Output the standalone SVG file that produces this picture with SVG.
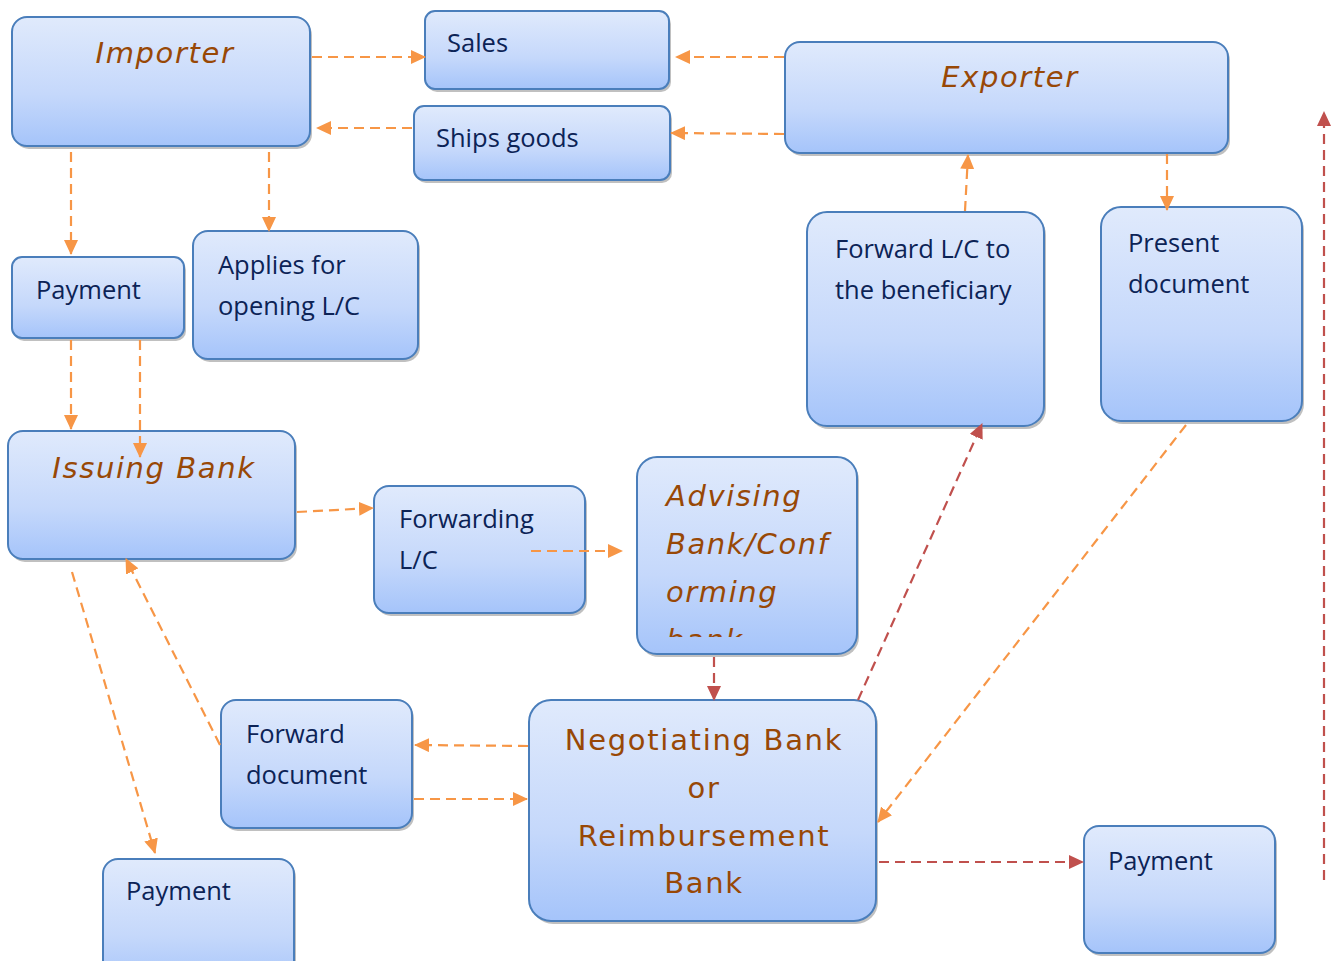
<svg xmlns="http://www.w3.org/2000/svg" width="1334" height="961" viewBox="0 0 1334 961">
<defs>
<linearGradient id="g" x1="0" y1="0" x2="0" y2="1">
<stop offset="0" stop-color="#e0eafc"/>
<stop offset="0.6" stop-color="#c5d8fb"/>
<stop offset="1" stop-color="#a5c4fa"/>
</linearGradient>
<marker id="ao" viewBox="0 0 15 14" refX="14" refY="7" markerWidth="15" markerHeight="14" markerUnits="userSpaceOnUse" orient="auto">
<path d="M0,0 L15,7 L0,14 z" fill="#f79646"/>
</marker>
<marker id="ar" viewBox="0 0 15 14" refX="14" refY="7" markerWidth="15" markerHeight="14" markerUnits="userSpaceOnUse" orient="auto">
<path d="M0,0 L15,7 L0,14 z" fill="#c0504d"/>
</marker>
<clipPath id="advclip"><rect x="637" y="457" width="221" height="180"/></clipPath>
</defs>
<style>
.sh{fill:#8c8c8c;opacity:0.55}
.bx{fill:url(#g);stroke:#4a7ebb;stroke-width:2}
.nv{font-family:"Open Sans","Liberation Sans",sans-serif;font-size:25.5px;fill:#0c2356}
.br{font-family:"DejaVu Sans",Verdana,sans-serif;font-style:italic;font-size:29px;letter-spacing:1.6px;fill:#984806}
.bn{font-family:"DejaVu Sans",Verdana,sans-serif;font-size:29px;letter-spacing:1.7px;fill:#984806}
.co{fill:none;stroke:#f79646;stroke-width:2.2;stroke-dasharray:10,6;marker-end:url(#ao)}
.cr{fill:none;stroke:#c0504d;stroke-width:2.2;stroke-dasharray:10,6;marker-end:url(#ar)}
</style>
<rect width="1334" height="961" fill="#ffffff"/>

<g id="importer">
<rect class="sh" x="14" y="20" width="298" height="129" rx="15"/>
<rect class="bx" x="12" y="17" width="298" height="129" rx="15"/>
<text class="br" x="165" y="63" text-anchor="middle">Importer</text>
</g>
<g id="sales">
<rect class="sh" x="427" y="14" width="244" height="78" rx="10"/>
<rect class="bx" x="425" y="11" width="244" height="78" rx="10"/>
<text class="nv" x="447" y="52">Sales</text>
</g>
<g id="ships-goods">
<rect class="sh" x="416" y="109" width="256" height="74" rx="10"/>
<rect class="bx" x="414" y="106" width="256" height="74" rx="10"/>
<text class="nv" x="436" y="147">Ships goods</text>
</g>
<g id="exporter">
<rect class="sh" x="787" y="45" width="443" height="111" rx="15"/>
<rect class="bx" x="785" y="42" width="443" height="111" rx="15"/>
<text class="br" x="1010" y="87" text-anchor="middle">Exporter</text>
</g>
<g id="payment-left">
<rect class="sh" x="14" y="260" width="172" height="81" rx="10"/>
<rect class="bx" x="12" y="257" width="172" height="81" rx="10"/>
<text class="nv" x="36" y="299">Payment</text>
</g>
<g id="applies">
<rect class="sh" x="195" y="234" width="225" height="128" rx="15"/>
<rect class="bx" x="193" y="231" width="225" height="128" rx="15"/>
<text class="nv" x="218" y="274">Applies for</text>
<text class="nv" x="218" y="315">opening L/C</text>
</g>
<g id="forward-lc">
<rect class="sh" x="809" y="215" width="237" height="214" rx="20"/>
<rect class="bx" x="807" y="212" width="237" height="214" rx="20"/>
<text class="nv" x="835" y="258">Forward L/C to</text>
<text class="nv" x="835" y="299">the beneficiary</text>
</g>
<g id="present-document">
<rect class="sh" x="1103" y="210" width="201" height="214" rx="20"/>
<rect class="bx" x="1101" y="207" width="201" height="214" rx="20"/>
<text class="nv" x="1128" y="252">Present</text>
<text class="nv" x="1128" y="293">document</text>
</g>
<g id="issuing-bank">
<rect class="sh" x="10" y="434" width="287" height="128" rx="15"/>
<rect class="bx" x="8" y="431" width="287" height="128" rx="15"/>
<text class="br" x="154" y="478" text-anchor="middle">Issuing Bank</text>
</g>
<g id="forwarding-lc">
<rect class="sh" x="376" y="489" width="211" height="127" rx="15"/>
<rect class="bx" x="374" y="486" width="211" height="127" rx="15"/>
<text class="nv" x="399" y="528">Forwarding</text>
<text class="nv" x="399" y="569">L/C</text>
</g>
<g id="advising-bank">
<rect class="sh" x="639" y="460" width="220" height="197" rx="20"/>
<rect class="bx" x="637" y="457" width="220" height="197" rx="20"/>
<g clip-path="url(#advclip)">
<text class="br" x="666" y="506">Advising</text>
<text class="br" x="666" y="554">Bank/Conf</text>
<text class="br" x="666" y="602">orming</text>
<text class="br" x="666" y="650">bank</text>
</g>
</g>
<g id="negotiating-bank">
<rect class="sh" x="531" y="703" width="347" height="221" rx="22"/>
<rect class="bx" x="529" y="700" width="347" height="221" rx="22"/>
<text class="bn" x="704" y="750" text-anchor="middle">Negotiating Bank</text>
<text class="bn" x="704" y="798" text-anchor="middle">or</text>
<text class="bn" x="704" y="846" text-anchor="middle">Reimbursement</text>
<text class="bn" x="704" y="893" text-anchor="middle">Bank</text>
</g>
<g id="forward-document">
<rect class="sh" x="223" y="703" width="191" height="128" rx="15"/>
<rect class="bx" x="221" y="700" width="191" height="128" rx="15"/>
<text class="nv" x="246" y="743">Forward</text>
<text class="nv" x="246" y="784">document</text>
</g>
<g id="payment-bottom">
<rect class="sh" x="105" y="862" width="191" height="128" rx="15"/>
<rect class="bx" x="103" y="859" width="191" height="128" rx="15"/>
<text class="nv" x="126" y="900">Payment</text>
</g>
<g id="payment-right">
<rect class="sh" x="1086" y="829" width="191" height="127" rx="15"/>
<rect class="bx" x="1084" y="826" width="191" height="127" rx="15"/>
<text class="nv" x="1108" y="870">Payment</text>
</g>

<g id="connectors">
<line class="co" x1="312" y1="57" x2="425" y2="57"/>
<line class="co" x1="784" y1="57" x2="676" y2="57"/>
<line class="co" x1="412" y1="128" x2="317" y2="128"/>
<line class="co" x1="784" y1="134" x2="671" y2="133"/>
<line class="co" x1="71" y1="152" x2="71" y2="254"/>
<line class="co" x1="269" y1="152" x2="269" y2="231"/>
<line class="co" x1="71" y1="340" x2="71" y2="429"/>
<line class="co" x1="140" y1="340" x2="140" y2="457"/>
<line class="co" x1="965" y1="211" x2="968" y2="155"/>
<line class="co" x1="1167" y1="154" x2="1167" y2="210"/>
<line class="co" x1="297" y1="512" x2="373" y2="508"/>
<line class="co" x1="531" y1="551" x2="622" y2="551"/>
<line class="cr" x1="714" y1="657" x2="714" y2="700"/>
<line class="cr" x1="858" y1="700" x2="982" y2="424"/>
<line class="co" x1="1186" y1="425" x2="878" y2="822"/>
<line class="co" x1="528" y1="746" x2="415" y2="745"/>
<line class="co" x1="414" y1="799" x2="527" y2="799"/>
<line class="co" x1="220" y1="745" x2="126" y2="559"/>
<line class="co" x1="72" y1="572" x2="155" y2="853"/>
<line class="cr" x1="879" y1="862" x2="1083" y2="862"/>
<line class="cr" x1="1324" y1="880" x2="1324" y2="112"/>
</g>
</svg>
